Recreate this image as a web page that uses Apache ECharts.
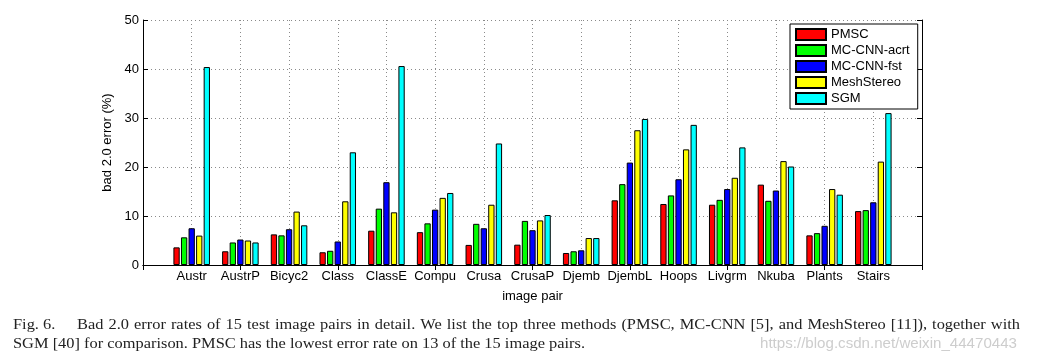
<!DOCTYPE html>
<html><head><meta charset="utf-8">
<script src="https://cdn.jsdelivr.net/npm/echarts@6/dist/echarts.min.js"></script>
<style>html,body{margin:0;padding:0;background:#fff}#c{width:1039px;height:360px}</style>
</head><body><div id="c"></div>
<script>
const categories = ['Austr','AustrP','Bicyc2','Class','ClassE','Compu','Crusa','CrusaP','Djemb','DjembL','Hoops','Livgrm','Nkuba','Plants','Stairs'];
const seriesNames = ['PMSC','MC-CNN-acrt','MC-CNN-fst','MeshStereo','SGM'];
const seriesColors = ['#ff0000','#00ff00','#0000ff','#ffff00','#00ffff'];
const pmsc   = [3.6, 2.8, 6.25, 2.6, 7.0, 6.7, 4.1, 4.15, 2.45, 13.2, 12.45, 12.3, 16.4, 6.05, 11.0];
const mcAcrt = [5.65, 4.6, 6.05, 2.9, 11.5, 8.5, 8.4, 9.0, 2.8, 16.5, 14.2, 13.3, 13.1, 6.5, 11.2];
const mcFst  = [7.5, 5.2, 7.3, 4.8, 16.9, 11.3, 7.5, 7.1, 3.0, 20.9, 17.5, 15.5, 15.2, 8.0, 12.8];
const mesh   = [6.0, 5.0, 10.9, 13.0, 10.75, 13.7, 12.3, 9.1, 5.5, 27.5, 23.6, 17.8, 21.2, 15.5, 21.1];
const sgm    = [40.4, 4.6, 8.1, 23.0, 40.6, 14.7, 24.8, 10.2, 5.5, 29.8, 28.6, 24.0, 20.1, 14.35, 31.0];
const yMin = 0, yMax = 50, yInterval = 10;
const xAxisName = 'image pair';
const yAxisName = 'bad 2.0 error (%)';
const captionLead = 'Fig. 6.';
const captionLine1 = 'Bad 2.0 error rates of 15 test image pairs in detail. We list the top three methods (PMSC, MC-CNN [5], and MeshStereo [11]), together with';
const captionLine2 = 'SGM [40] for comparison. PMSC has the lowest error rate on 13 of the 15 image pairs.';
const watermark = 'https://blog.csdn.net/weixin_44470443';

const allValues = [pmsc, mcAcrt, mcFst, mesh, sgm];
const paddedCats = [''].concat(categories, ['']);
const pad = arr => [null].concat(arr, [null]);

const sansFont = '"Liberation Sans", Arial, Helvetica, sans-serif';
const serifFont = '"Liberation Serif", "Times New Roman", serif';

// caption layout: first line justified, text widened to the reference's width
const cv = document.createElement('canvas').getContext('2d');
const capFont = '14px ' + serifFont;
cv.font = capFont;
const capScale = (585 - 13) / cv.measureText(captionLine2).width;
const words = captionLine1.split(' ');
const widths = words.map(w => cv.measureText(w).width * capScale);
const x0 = 77, x1 = 1020;
const gap = (x1 - x0 - widths.reduce((a, b) => a + b, 0)) / (words.length - 1);
const graphics = [];
const capText = (t, x, y) => ({type: 'text', x: x, y: y, scaleX: capScale, style: {text: t, font: capFont, fill: '#222', textVerticalAlign: 'middle'}});
graphics.push(capText(captionLead, 13, 325));
let cx = x0;
words.forEach((w, i) => { graphics.push(capText(w, cx, 325)); cx += widths[i] + gap; });
graphics.push(capText(captionLine2, 13, 344));
const wmFont = '14px ' + sansFont;
cv.font = wmFont;
const wmScale = (1017 - 760) / cv.measureText(watermark).width;
graphics.push({type: 'text', x: 760, y: 344, scaleX: wmScale, style: {text: watermark, font: wmFont, fill: '#cdcdcd', textVerticalAlign: 'middle'}});

const chart = echarts.init(document.getElementById('c'), null, {renderer: 'canvas'});
const dotted = {color: '#8a8a8a', width: 1, type: [1, 3]};
chart.setOption({
  animation: false,
  backgroundColor: '#fff',
  grid: {left: 143, right: 117, top: 20, bottom: 95, containLabel: false},
  legend: {
    orient: 'vertical', left: 790, top: 24,
    itemWidth: 30, itemHeight: 11, itemGap: 3,
    padding: [4, 8, 4, 5],
    borderColor: '#000', borderWidth: 1, backgroundColor: '#fff',
    icon: 'rect',
    textStyle: {fontSize: 13, fontFamily: sansFont, color: '#000'},
    data: seriesNames
  },
  xAxis: [{
    type: 'category', data: paddedCats, boundaryGap: false, position: 'bottom',
    name: xAxisName, nameLocation: 'middle', nameGap: 25,
    nameTextStyle: {fontSize: 13, fontFamily: sansFont, color: '#000'},
    axisLine: {lineStyle: {color: '#000', width: 1}},
    axisTick: {inside: true, length: 5, lineStyle: {color: '#000'}},
    axisLabel: {fontSize: 13, fontFamily: sansFont, color: '#000', margin: 5, interval: 0},
    splitLine: {show: true, lineStyle: dotted}
  }, {
    type: 'category', data: paddedCats, boundaryGap: false, position: 'top',
    axisLine: {lineStyle: {color: '#000', width: 1}},
    axisTick: {inside: true, length: 5, lineStyle: {color: '#000'}},
    axisLabel: {show: false}, splitLine: {show: false}
  }],
  yAxis: [{
    type: 'value', min: yMin, max: yMax, interval: yInterval, position: 'left',
    name: yAxisName, nameLocation: 'middle', nameGap: 21,
    nameTextStyle: {fontSize: 13, fontFamily: sansFont, color: '#000'},
    axisLine: {show: true, lineStyle: {color: '#000', width: 1}},
    axisTick: {show: true, inside: true, length: 5, lineStyle: {color: '#000'}},
    axisLabel: {fontSize: 13, fontFamily: sansFont, color: '#000', margin: 4},
    splitLine: {show: true, lineStyle: dotted}
  }, {
    type: 'value', min: yMin, max: yMax, interval: yInterval, position: 'right',
    axisLine: {show: true, lineStyle: {color: '#000', width: 1}},
    axisTick: {show: true, inside: true, length: 5, lineStyle: {color: '#000'}},
    axisLabel: {show: false}, splitLine: {show: false}
  }],
  series: seriesNames.map((n, i) => ({
    name: n, type: 'bar', xAxisIndex: 0, yAxisIndex: 0,
    data: pad(allValues[i]),
    barWidth: 6.3, barGap: '20%',
    itemStyle: {color: seriesColors[i], borderColor: '#000', borderWidth: 1}
  })),
  graphic: graphics
});
</script></body></html>
